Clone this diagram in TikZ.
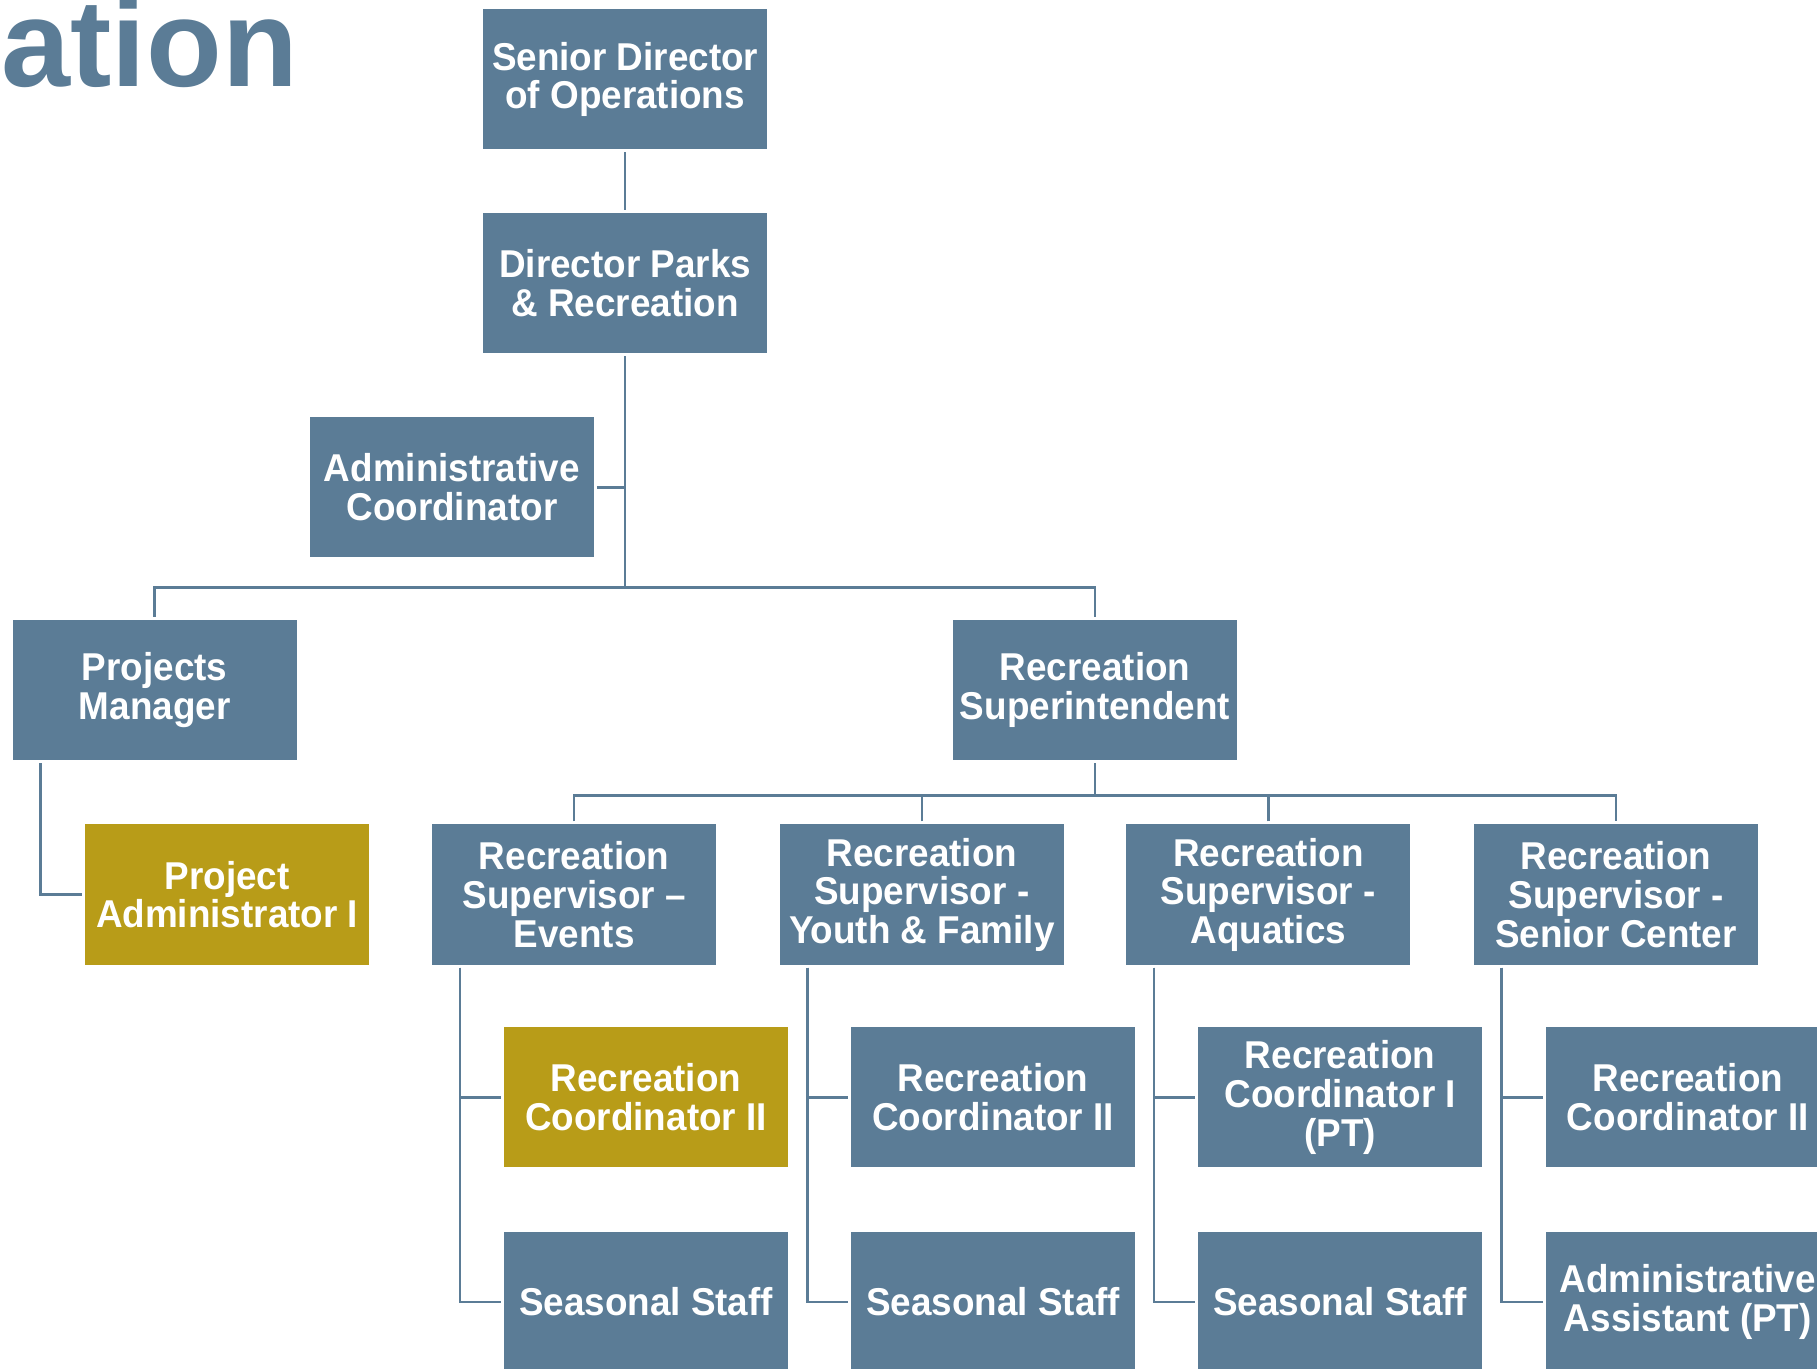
\documentclass[tikz,border=0pt]{standalone}
\usepackage{fontspec}
\setmainfont{Liberation Sans}
\newfontfamily\boxfont{Liberation Sans}[FakeStretch=0.95]
\definecolor{orgblue}{RGB}{91,124,150}
\definecolor{orggold}{RGB}{184,156,24}
\begin{document}
\begin{tikzpicture}[x=0.5794pt,y=-0.5794pt,
  box/.style={fill=orgblue, draw=none, minimum width=141.95pt, minimum height=70.1pt,
    inner sep=0pt, outer sep=1.5pt, text=white, align=center,
    font=\boxfont\bfseries\fontsize{19.4}{19.3}\selectfont},
  goldbox/.style={box, fill=orggold},
  conn/.style={draw=orgblue, line width=1.3pt}]
\useasboundingbox (0,0) rectangle (1568,1181);
% title fragment
\node[anchor=base west, inner sep=0pt, text=orgblue, font=\bfseries\fontsize{62}{62}\selectfont] (title) at (1,75) {ation};
% boxes
\node[box] (senior) at (539.5,68.5) {Senior Director\\of Operations};
\node[box] (director) at (539.5,244.5) {Director Parks\\\& Recreation};
\node[box] (admin) at (390,420.5) {Administrative\\Coordinator};
\node[box] (pm) at (133.5,595.5) {Projects\\Manager};
\node[box] (super) at (945,595.5) {Recreation\\Superintendent};
\node[goldbox] (pa) at (196,772) {Project\\Administrator I};
\node[box] (rse) at (495.5,772) {Recreation\\Supervisor –\\Events};
\node[box] (rsy) at (795.5,772) {Recreation\\Supervisor -\\Youth \& Family};
\node[box] (rsa) at (1094.5,772) {Recreation\\Supervisor -\\Aquatics};
\node[box] (rss) at (1394.5,772) {Recreation\\Supervisor -\\Senior Center};
\node[goldbox] (rc1) at (557.5,947) {Recreation\\Coordinator II};
\node[box] (rc2) at (857,947) {Recreation\\Coordinator II};
\node[box] (rc3) at (1156.5,947) {Recreation\\Coordinator I\\(PT)};
\node[box] (rc4) at (1456.5,947) {Recreation\\Coordinator II};
\node[box] (ss1) at (557.5,1123.5) {Seasonal Staff};
\node[box] (ss2) at (857,1123.5) {Seasonal Staff};
\node[box] (ss3) at (1156.5,1123.5) {Seasonal Staff};
\node[box] (aa) at (1456.5,1123.5) {Administrative\\Assistant (PT)};
% connectors
\coordinate (j1) at (539.5,507);
\draw[conn] (senior) -- (director);
\draw[conn] (director.south) -- (j1);
\draw[conn] (admin.east) -- (admin.east -| director.south);
\draw[conn] (pm.north) |- (j1) -| (super.north);
\draw[conn] ([xshift=26.5*0.5794pt]pm.south west) |- (pa.west);
\draw[conn] (super.south) -- ++(0,28) coordinate (j2);
\draw[conn] (rse.north) |- (j2) -| (rss.north);
\draw[conn] (rsy.north) -- (rsy.north |- j2);
\draw[conn] (rsa.north) -- (rsa.north |- j2);
\foreach \s/\a/\b in {rse/rc1/ss1, rsy/rc2/ss2, rsa/rc3/ss3, rss/rc4/aa}{
  \draw[conn] ([xshift=26.5*0.5794pt]\s.south west) |- (\a.west);
  \draw[conn] ([xshift=26.5*0.5794pt]\s.south west) |- (\b.west);
}
\end{tikzpicture}
\end{document}
